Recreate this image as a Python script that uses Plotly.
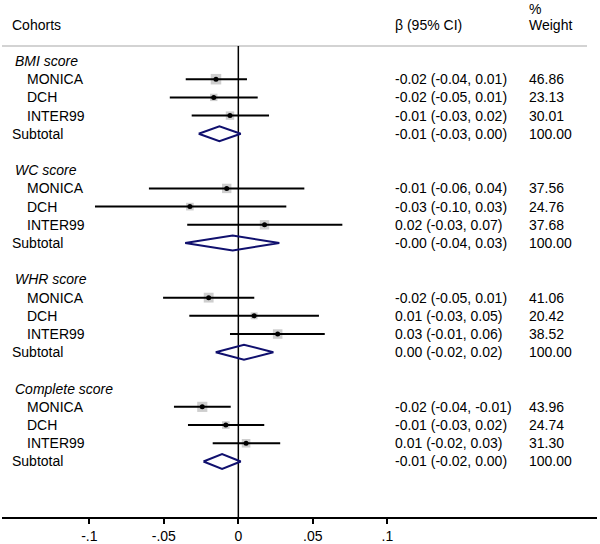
import plotly.graph_objects as go

groups = ["BMI score", "WC score", "WHR score", "Complete score"]
cohorts = ["MONICA", "DCH", "INTER99"]

est = [[-0.0150, -0.0165, -0.0056],
       [-0.0078, -0.0325, 0.0176],
       [-0.0199, 0.0106, 0.0264],
       [-0.0242, -0.0084, 0.0052]]
lo = [[-0.0353, -0.0460, -0.0313],
      [-0.0600, -0.0962, -0.0343],
      [-0.0505, -0.0329, -0.0056],
      [-0.0432, -0.0338, -0.0172]]
hi = [[0.0058, 0.0130, 0.0206],
      [0.0443, 0.0322, 0.0698],
      [0.0107, 0.0541, 0.0580],
      [-0.0051, 0.0174, 0.0281]]
weights = [[46.86, 23.13, 30.01],
           [37.56, 24.76, 37.68],
           [41.06, 20.42, 38.52],
           [43.96, 24.74, 31.30]]

sub_est = [-0.0127, -0.0038, 0.0038, -0.0109]
sub_lo = [-0.0266, -0.0357, -0.0152, -0.0234]
sub_hi = [0.0016, 0.0275, 0.0235, 0.0016]

ci_text = [["-0.02 (-0.04, 0.01)", "-0.02 (-0.05, 0.01)", "-0.01 (-0.03, 0.02)"],
           ["-0.01 (-0.06, 0.04)", "-0.03 (-0.10, 0.03)", "0.02 (-0.03, 0.07)"],
           ["-0.02 (-0.05, 0.01)", "0.01 (-0.03, 0.05)", "0.03 (-0.01, 0.06)"],
           ["-0.02 (-0.04, -0.01)", "-0.01 (-0.03, 0.02)", "0.01 (-0.02, 0.03)"]]
wt_text = [["46.86", "23.13", "30.01"],
           ["37.56", "24.76", "37.68"],
           ["41.06", "20.42", "38.52"],
           ["43.96", "24.74", "31.30"]]
sub_ci_text = ["-0.01 (-0.03, 0.00)", "-0.00 (-0.04, 0.03)", "0.00 (-0.02, 0.02)", "-0.01 (-0.02, 0.00)"]
sub_wt_text = ["100.00", "100.00", "100.00", "100.00"]

tick_vals = [-0.1, -0.05, 0, 0.05, 0.1]
tick_text = ["-.1", "-.05", "0", ".05", ".1"]

FONT = "Liberation Sans, Arial, sans-serif"
FS = 14
W, H = 600, 544
ML, MR = 2, 3


def px(x):
    return (x - ML) / (W - ML - MR)


ci_x, ci_y = [], []
pt_x, pt_y, sq_size = [], [], []
dia_x, dia_y = [], []
annotations = []

def add_text(xpix, row, text):
    annotations.append(dict(x=px(xpix), y=row, xref="paper", yref="y", text=text,
                            showarrow=False, xanchor="left", yanchor="middle",
                            font=dict(family=FONT, size=FS, color="black")))

X_CI, X_WT = 393, 527
add_text(10, -2, "Cohorts")
add_text(X_CI, -1.98, "β (95% CI)")
add_text(X_WT, -2.85, "%")
add_text(X_WT, -1.98, "Weight")

for g, name in enumerate(groups):
    base = 6 * g
    add_text(13, base, "<i>" + name + "</i>")
    for i, c in enumerate(cohorts):
        r = base + 1 + i
        ci_x += [lo[g][i], hi[g][i], None]
        ci_y += [r, r, None]
        pt_x.append(est[g][i])
        pt_y.append(r)
        sq_size.append(10.5 * (weights[g][i] / 46.86) ** 0.5)
        add_text(25, r, c)
        add_text(X_CI, r, ci_text[g][i])
        add_text(X_WT, r, wt_text[g][i])
    r = base + 4
    h = 0.41
    dia_x += [sub_lo[g], sub_est[g], sub_hi[g], sub_est[g], sub_lo[g], None]
    dia_y += [r, r - h, r, r + h, r, None]
    add_text(10, r, "Subtotal")
    add_text(X_CI, r, sub_ci_text[g])
    add_text(X_WT, r, sub_wt_text[g])

fig = go.Figure()
fig.add_trace(go.Scatter(x=pt_x, y=pt_y, mode="markers",
                         marker=dict(symbol="square", size=sq_size, color="#b9b9b9",
                                     line=dict(width=0)), hoverinfo="skip"))
fig.add_trace(go.Scatter(x=ci_x, y=ci_y, mode="lines",
                         line=dict(color="black", width=2), hoverinfo="skip"))
fig.add_trace(go.Scatter(x=pt_x, y=pt_y, mode="markers",
                         marker=dict(symbol="circle", size=5, color="black"), hoverinfo="skip"))
fig.add_trace(go.Scatter(x=dia_x, y=dia_y, mode="lines",
                         line=dict(color="#10106e", width=2), hoverinfo="skip"))

y_top, y_bot = -3.35, 25.05
fig.update_layout(
    width=W, height=H,
    margin=dict(l=ML, r=MR, t=0, b=27),
    paper_bgcolor="white", plot_bgcolor="white",
    showlegend=False,
    font=dict(family=FONT, size=FS, color="black"),
    xaxis=dict(range=[-0.1586, 0.2407], showgrid=False, zeroline=False,
               showline=True, linecolor="black", linewidth=1.5,
               ticks="outside", ticklen=5, tickwidth=1.5, tickcolor="black",
               tickvals=tick_vals, ticktext=tick_text,
               tickfont=dict(family=FONT, size=FS, color="black")),
    yaxis=dict(range=[y_bot, y_top], visible=False, showgrid=False, zeroline=False),
    annotations=annotations,
    shapes=[
        dict(type="line", xref="paper", yref="y", x0=0, x1=px(587), y0=-0.82, y1=-0.82,
             line=dict(color="#c4c4c4", width=1.5), layer="below"),
        dict(type="line", xref="x", yref="y", x0=0, x1=0, y0=-0.82, y1=y_bot,
             line=dict(color="black", width=1.5), layer="below"),
    ],
)

fig.write_html("out.html", config={"displayModeBar": False},
               post_script="document.body.style.margin='0';document.body.style.padding='0';document.body.style.overflow='hidden';")
